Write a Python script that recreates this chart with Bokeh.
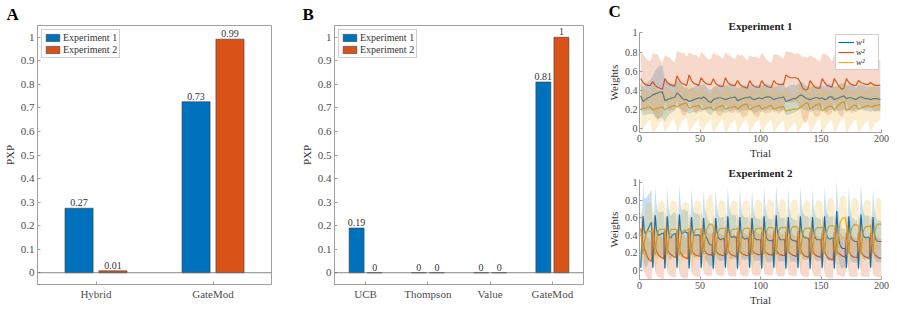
import numpy as np
from bokeh.plotting import figure
from bokeh.models import (FactorRange, Span, Legend, LegendItem, Title, FixedTicker,
                          ColumnDataSource)
from bokeh.transform import dodge
from bokeh.layouts import row, column
from bokeh.embed import file_html
from bokeh.resources import INLINE
from bokeh.core.properties import value

# ---------------- data ----------------
models_a = ["Hybrid", "GateMod"]
pxp_a_exp1 = [0.274, 0.726]
pxp_a_exp2 = [0.008, 0.992]
labels_a_exp1 = ["0.27", "0.73"]
labels_a_exp2 = ["0.01", "0.99"]

models_b = ["UCB", "Thompson", "Value", "GateMod"]
pxp_b_exp1 = [0.19, 0.0, 0.0, 0.81]
pxp_b_exp2 = [0.0, 0.0, 0.0, 1.0]
labels_b_exp1 = ["0.19", "0", "0", "0.81"]
labels_b_exp2 = ["0", "0", "0", "1"]

pxp_ticks = [0, 0.1, 0.2, 0.3, 0.4, 0.5, 0.6, 0.7, 0.8, 0.9, 1]
pxp_tick_labels = ["0", "0.1", "0.2", "0.3", "0.4", "0.5", "0.6", "0.7", "0.8", "0.9", "1"]
w_ticks = [0, 0.2, 0.4, 0.6, 0.8, 1]
w_tick_labels = ["0", "0.2", "0.4", "0.6", "0.8", "1"]
trial_ticks = [0, 50, 100, 150, 200]

# Experiment 1: weights (x100) at trials 1,3,...,199
trials_e1 = list(range(1, 200, 2))
w1_mean_e1 = [34, 28, 30, 32, 33, 35, 36, 37, 38, 38, 29, 30, 31, 32, 32, 37, 35, 32, 30, 30,
              28, 29, 30, 31, 32, 31, 33, 31, 28, 27, 30, 31, 32, 32, 31, 30, 31, 32, 32, 33,
              29, 30, 31, 32, 32, 33, 31, 30, 31, 32, 31, 32, 33, 33, 32, 30, 31, 32, 32, 33,
              28, 29, 30, 31, 31, 33, 35, 34, 32, 31, 30, 31, 32, 32, 31, 32, 30, 31, 33, 33,
              30, 31, 32, 33, 34, 31, 32, 32, 31, 30, 32, 33, 32, 31, 31, 30, 31, 31, 31, 30]
w2_mean_e1 = [52, 48, 46, 45, 45, 49, 45, 43, 42, 41, 52, 48, 46, 45, 44, 55, 50, 47, 46, 45,
              56, 50, 47, 46, 45, 53, 49, 47, 46, 46, 52, 47, 45, 44, 44, 53, 48, 46, 45, 45,
              50, 46, 44, 43, 42, 50, 46, 44, 43, 43, 50, 46, 44, 43, 43, 50, 47, 46, 46, 46,
              56, 54, 53, 53, 53, 52, 48, 42, 40, 41, 50, 46, 43, 42, 42, 52, 48, 45, 44, 43,
              52, 48, 44, 41, 42, 52, 48, 46, 45, 45, 50, 48, 47, 46, 46, 48, 46, 45, 45, 45]
w3_mean_e1 = [20, 21, 21, 22, 22, 19, 20, 21, 22, 22, 19, 21, 22, 23, 24, 22, 24, 25, 26, 26,
              21, 22, 23, 23, 24, 20, 20, 21, 22, 22, 19, 21, 22, 23, 24, 20, 21, 22, 22, 23,
              20, 22, 24, 25, 25, 19, 21, 22, 23, 24, 20, 21, 22, 23, 24, 20, 21, 22, 22, 23,
              18, 19, 19, 20, 20, 20, 22, 24, 26, 27, 20, 22, 24, 25, 26, 18, 20, 22, 23, 23,
              19, 22, 25, 27, 28, 19, 20, 22, 24, 24, 20, 21, 22, 23, 24, 22, 23, 24, 24, 25]
w1_sd_e1 = [14, 15, 16, 17, 18, 20, 24, 27, 28, 27, 22, 18, 16, 15, 14, 14, 14, 13, 13, 13,
            13, 13, 13, 14, 14, 14, 14, 13, 13, 13, 13, 13, 14, 14, 14, 14, 14, 14, 13, 13,
            13, 13, 13, 13, 13, 13, 14, 14, 14, 14, 14, 14, 14, 13, 13, 13, 13, 13, 14, 14,
            14, 15, 15, 15, 14, 14, 14, 14, 13, 13, 13, 13, 13, 13, 13, 13, 14, 14, 14, 13,
            13, 13, 14, 14, 14, 14, 14, 13, 13, 13, 13, 13, 13, 13, 13, 13, 13, 13, 13, 13]
w2_sd_e1 = [27, 30, 28, 26, 25, 30, 33, 35, 30, 28, 25, 27, 28, 26, 25, 26, 30, 32, 33, 30,
            24, 28, 30, 31, 28, 27, 29, 28, 26, 27, 28, 30, 32, 31, 29, 27, 29, 30, 29, 28,
            28, 30, 33, 31, 29, 27, 29, 31, 32, 30, 29, 30, 28, 27, 26, 28, 30, 31, 29, 27,
            25, 26, 27, 26, 25, 27, 29, 33, 35, 33, 27, 29, 31, 30, 28, 26, 30, 32, 30, 27,
            25, 28, 30, 29, 27, 26, 28, 30, 28, 26, 24, 26, 27, 26, 25, 25, 27, 28, 27, 26]
w3_sd_e1 = [26, 22, 18, 15, 13, 27, 23, 19, 16, 14, 25, 21, 18, 15, 14, 27, 23, 19, 16, 15,
            26, 22, 19, 16, 14, 25, 21, 18, 15, 13, 26, 22, 19, 16, 15, 27, 23, 19, 16, 14,
            26, 22, 19, 17, 16, 25, 21, 18, 16, 15, 26, 22, 18, 16, 15, 27, 23, 19, 16, 15,
            25, 21, 18, 15, 14, 26, 22, 19, 17, 16, 27, 23, 20, 17, 16, 25, 21, 18, 16, 15,
            26, 23, 20, 18, 17, 25, 21, 18, 16, 15, 26, 22, 19, 17, 16, 26, 22, 19, 17, 16]

# Experiment 2: weights (x100) at trials 1..200 (one row per block of 10 trials)
trials_e2 = list(range(1, 201))
w1_mean_e2 = [3, 35, 62, 45, 42, 44, 47, 50, 53, 55,
              3, 36, 63, 47, 42, 40, 41, 42, 42, 43,
              2, 34, 62, 44, 38, 37, 40, 41, 42, 42,
              3, 35, 64, 46, 42, 43, 44, 44, 43, 43,
              2, 34, 61, 45, 41, 40, 40, 41, 40, 40,
              3, 33, 60, 43, 38, 36, 32, 30, 29, 29,
              2, 32, 60, 44, 38, 36, 35, 36, 36, 37,
              3, 34, 62, 45, 40, 38, 38, 39, 38, 38,
              2, 33, 61, 44, 38, 37, 36, 36, 37, 36,
              3, 33, 60, 43, 37, 36, 35, 35, 35, 35,
              2, 33, 62, 44, 37, 35, 34, 34, 34, 35,
              3, 34, 63, 45, 38, 36, 35, 35, 35, 35,
              2, 32, 61, 43, 36, 35, 34, 34, 33, 34,
              3, 34, 62, 46, 40, 38, 37, 37, 37, 36,
              2, 33, 61, 44, 38, 36, 35, 35, 35, 35,
              3, 34, 62, 45, 39, 37, 36, 36, 37, 37,
              2, 35, 68, 45, 33, 28, 26, 25, 25, 25,
              3, 34, 62, 44, 37, 35, 34, 33, 33, 33,
              2, 35, 64, 47, 40, 38, 37, 38, 38, 37,
              3, 33, 61, 43, 36, 34, 33, 33, 33, 33]
w2_mean_e2 = [48, 40, 30, 25, 21, 17, 14, 12, 11, 10,
              47, 38, 26, 22, 19, 17, 16, 15, 14, 13,
              46, 37, 25, 21, 19, 18, 17, 16, 15, 15,
              46, 36, 24, 20, 18, 16, 15, 14, 14, 13,
              45, 36, 24, 21, 19, 18, 17, 17, 16, 16,
              46, 37, 25, 22, 20, 19, 18, 18, 18, 17,
              44, 35, 24, 21, 19, 18, 18, 17, 17, 17,
              45, 36, 24, 21, 19, 18, 17, 17, 16, 16,
              44, 35, 23, 20, 19, 18, 18, 17, 17, 17,
              45, 36, 24, 21, 20, 19, 19, 18, 18, 18,
              44, 35, 24, 21, 20, 19, 18, 18, 18, 17,
              45, 36, 24, 21, 19, 18, 18, 17, 17, 17,
              44, 35, 23, 20, 19, 18, 17, 17, 16, 16,
              45, 36, 24, 21, 19, 17, 16, 16, 15, 15,
              44, 35, 23, 20, 18, 17, 16, 16, 15, 15,
              43, 34, 22, 18, 16, 14, 13, 13, 12, 12,
              44, 36, 23, 20, 19, 18, 17, 16, 16, 15,
              43, 34, 22, 19, 17, 16, 15, 15, 15, 14,
              44, 35, 22, 19, 17, 16, 15, 15, 14, 14,
              43, 34, 22, 19, 17, 16, 15, 14, 14, 14]
w3_mean_e2 = [47, 30, 18, 32, 40, 44, 45, 45, 44, 44,
              48, 29, 17, 33, 42, 46, 47, 47, 47, 47,
              48, 30, 18, 34, 43, 47, 47, 47, 47, 47,
              47, 29, 17, 33, 42, 45, 46, 46, 46, 46,
              48, 30, 18, 33, 42, 46, 47, 47, 47, 47,
              48, 30, 19, 34, 44, 48, 51, 53, 53, 53,
              49, 31, 18, 34, 43, 47, 48, 48, 48, 48,
              48, 30, 18, 33, 42, 46, 47, 47, 47, 47,
              49, 31, 19, 35, 44, 47, 48, 48, 48, 48,
              48, 30, 18, 34, 43, 47, 48, 48, 48, 48,
              49, 31, 18, 34, 44, 48, 49, 49, 49, 49,
              48, 30, 18, 34, 44, 48, 49, 49, 49, 49,
              50, 31, 19, 36, 45, 49, 50, 50, 50, 50,
              48, 30, 18, 33, 42, 46, 48, 48, 48, 48,
              49, 31, 18, 35, 44, 48, 49, 49, 49, 49,
              50, 31, 19, 36, 45, 49, 51, 51, 51, 51,
              50, 30, 17, 35, 48, 55, 58, 60, 60, 60,
              52, 32, 19, 36, 46, 50, 52, 52, 52, 52,
              50, 31, 18, 34, 44, 48, 50, 50, 50, 50,
              52, 32, 19, 37, 47, 51, 53, 53, 53, 53]
w1_sd_e2 = [6, 28, 35, 38, 40, 40, 39, 38, 37, 36,
            6, 25, 34, 30, 27, 26, 26, 25, 25, 25,
            5, 24, 33, 29, 26, 25, 25, 25, 24, 24,
            6, 25, 34, 30, 27, 26, 26, 25, 25, 25,
            5, 24, 33, 29, 26, 25, 25, 24, 24, 24,
            6, 25, 33, 29, 27, 26, 25, 25, 24, 24,
            5, 24, 33, 29, 26, 25, 25, 25, 25, 24,
            6, 25, 34, 30, 27, 26, 25, 25, 25, 25,
            5, 24, 33, 29, 26, 25, 25, 24, 24, 24,
            6, 25, 33, 29, 26, 25, 24, 24, 24, 24,
            5, 24, 34, 30, 27, 26, 25, 25, 24, 24,
            6, 25, 35, 31, 28, 26, 25, 25, 25, 25,
            5, 24, 33, 29, 26, 25, 24, 24, 24, 24,
            6, 25, 34, 30, 27, 26, 25, 25, 25, 24,
            5, 24, 33, 29, 26, 25, 25, 24, 24, 24,
            6, 25, 34, 30, 27, 26, 25, 25, 25, 25,
            5, 26, 36, 31, 26, 24, 23, 23, 22, 22,
            6, 25, 34, 30, 27, 25, 25, 24, 24, 24,
            5, 25, 35, 31, 27, 26, 25, 25, 25, 25,
            6, 24, 33, 29, 26, 25, 24, 24, 24, 24]
w2_sd_e2 = [20, 24, 27, 27, 26, 25, 24, 23, 22, 22,
            21, 25, 28, 27, 26, 25, 24, 24, 23, 23,
            20, 24, 27, 26, 25, 25, 24, 24, 23, 23,
            21, 25, 28, 27, 26, 25, 24, 23, 23, 22,
            20, 24, 27, 26, 25, 25, 24, 24, 24, 23,
            21, 25, 28, 27, 26, 25, 25, 24, 24, 24,
            20, 24, 27, 26, 25, 24, 24, 24, 23, 23,
            21, 25, 28, 27, 26, 25, 24, 24, 23, 23,
            20, 24, 27, 26, 25, 25, 24, 24, 24, 23,
            21, 25, 28, 27, 26, 25, 25, 24, 24, 24,
            20, 24, 27, 26, 25, 25, 24, 24, 24, 23,
            21, 25, 28, 27, 26, 25, 24, 24, 24, 23,
            20, 24, 27, 26, 25, 24, 24, 23, 23, 23,
            21, 25, 28, 27, 25, 24, 24, 23, 23, 22,
            20, 24, 27, 26, 25, 24, 23, 23, 22, 22,
            21, 25, 28, 26, 24, 23, 22, 22, 21, 21,
            20, 24, 27, 26, 25, 24, 24, 23, 23, 22,
            21, 25, 27, 26, 24, 23, 23, 22, 22, 22,
            20, 24, 27, 26, 24, 23, 23, 22, 22, 22,
            21, 25, 27, 26, 24, 23, 23, 22, 22, 22]
w3_sd_e2 = [28, 24, 20, 26, 30, 32, 33, 33, 33, 33,
            27, 23, 19, 26, 30, 32, 32, 32, 32, 31,
            28, 24, 20, 27, 31, 32, 33, 33, 32, 32,
            27, 23, 19, 26, 30, 32, 32, 32, 31, 31,
            28, 24, 20, 27, 31, 33, 33, 33, 32, 32,
            28, 24, 20, 27, 31, 33, 34, 34, 33, 33,
            27, 23, 19, 26, 30, 32, 32, 32, 32, 31,
            28, 24, 20, 27, 31, 32, 33, 33, 32, 32,
            27, 23, 19, 26, 30, 32, 32, 32, 32, 32,
            28, 24, 20, 27, 31, 32, 33, 33, 32, 32,
            27, 23, 19, 26, 30, 32, 32, 32, 31, 31,
            28, 24, 20, 27, 31, 32, 32, 32, 32, 31,
            27, 23, 19, 26, 30, 31, 31, 31, 31, 30,
            28, 24, 20, 27, 31, 32, 33, 33, 32, 32,
            27, 23, 19, 26, 30, 31, 31, 31, 31, 30,
            28, 24, 20, 27, 31, 32, 32, 32, 31, 31,
            27, 23, 19, 26, 29, 28, 27, 26, 25, 25,
            28, 24, 20, 27, 30, 31, 31, 30, 30, 30,
            27, 23, 19, 26, 30, 31, 31, 31, 30, 30,
            28, 24, 20, 27, 30, 30, 30, 29, 28, 28]

legend_w = ["w\u00b9", "w\u00b2", "w\u00b2"]

# ---------------- style ----------------
BLUE, ORANGE, YELLOW = "#0072BD", "#D95319", "#EDB120"
SERIF = "Liberation Serif"
TICK_C = "#4d4d4d"
AXIS_C = "#a0a0a0"
LAB_C = "#333333"


def style_axis(ax, size="11px", lsize="11px", st=3):
    ax.major_label_text_font = SERIF
    ax.major_label_text_font_size = size
    ax.major_label_text_color = TICK_C
    ax.axis_line_color = AXIS_C
    ax.major_tick_line_color = AXIS_C
    ax.major_tick_in = 3
    ax.major_tick_out = 0
    ax.minor_tick_line_color = None
    ax.major_label_standoff = st
    ax.axis_label_text_font = SERIF
    ax.axis_label_text_font_size = lsize
    ax.axis_label_text_font_style = "normal"
    ax.axis_label_text_color = LAB_C
    ax.axis_label_standoff = 2


def letter_title(text, offset, standoff=3):
    return Title(text=text, align="left", offset=offset, standoff=standoff,
                 text_font=SERIF, text_font_size="17px", text_font_style="bold",
                 text_color="black")


def bar_panel(cats, e1, e2, l1, l2, letter, left, right, width):
    p = figure(x_range=FactorRange(factors=cats, range_padding=0), y_range=(-0.05, 1.05),
               width=width, height=302, min_border_left=left, min_border_right=right,
               min_border_top=25, min_border_bottom=18, title=None,
               output_backend="svg", toolbar_location=None)
    src = ColumnDataSource(dict(cat=cats, e1=e1, e2=e2, l1=l1, l2=l2))
    x1 = dodge("cat", -0.145, range=p.x_range)
    x2 = dodge("cat", 0.145, range=p.x_range)
    r1 = p.vbar(x=x1, top="e1", width=0.24, source=src, fill_color=BLUE,
                line_color="#3a3a3a", line_width=0.6)
    r2 = p.vbar(x=x2, top="e2", width=0.24, source=src, fill_color=ORANGE,
                line_color="#3a3a3a", line_width=0.6)
    for xx, lab, val in ((x1, "l1", "e1"), (x2, "l2", "e2")):
        p.text(x=xx, y=val, text=lab, source=src, text_align="center",
               text_baseline="bottom", y_offset=-2, text_font=value(SERIF),
               text_font_size="10px", text_color=LAB_C)
    p.add_layout(Span(location=0, dimension="width", line_color="#6a6a6a", line_width=0.8))
    p.xgrid.visible = False
    p.ygrid.visible = False
    p.outline_line_color = AXIS_C
    p.yaxis.ticker = FixedTicker(ticks=pxp_ticks)
    p.yaxis.major_label_overrides = dict(zip(pxp_ticks, pxp_tick_labels))
    p.yaxis.axis_label = "PXP"
    for ax in p.axis:
        style_axis(ax)
    leg = Legend(items=[LegendItem(label="Experiment 1", renderers=[r1]),
                        LegendItem(label="Experiment 2", renderers=[r2])],
                 location="top_left", label_text_font=SERIF, label_text_font_size="10px",
                 label_text_color=LAB_C, glyph_width=17, glyph_height=9, label_height=10,
                 spacing=1, padding=2, margin=4, label_standoff=2,
                 border_line_color=AXIS_C, background_fill_alpha=1)
    p.add_layout(leg)
    p.add_layout(letter_title(letter, -left, standoff=4), "above")
    return p


def line_panel(x, means, sds, title, yr, height, top, bottom, letter=None, legend=False):
    p = figure(x_range=(0, 200), y_range=yr, width=288, height=height,
               min_border_left=38, min_border_right=8, min_border_top=top,
               min_border_bottom=bottom, title=None,
               output_backend="svg", toolbar_location=None)
    cols = [BLUE, ORANGE, YELLOW]
    rends = []
    for m, c in zip(means, cols):
        rends.append(p.line(x, np.array(m) / 100.0, line_color=c, line_width=1.2))
    for m, s, c in zip(means, sds, cols):
        m = np.array(m) / 100.0
        s = np.array(s) / 100.0
        p.varea(x=x, y1=m - s, y2=m + s, fill_color=c, fill_alpha=0.22)
    p.xgrid.visible = False
    p.ygrid.visible = False
    p.outline_line_color = None
    p.xaxis.ticker = FixedTicker(ticks=trial_ticks)
    p.yaxis.ticker = FixedTicker(ticks=w_ticks)
    p.yaxis.major_label_overrides = dict(zip(w_ticks, w_tick_labels))
    p.xaxis.axis_label = "Trial"
    p.yaxis.axis_label = "Weights"
    for ax in p.axis:
        style_axis(ax, size="10px", lsize="11px", st=2)
    p.add_layout(Title(text=title, align="center", standoff=2, text_font=SERIF,
                       text_font_size="11px", text_font_style="bold",
                       text_color="#222222"), "above")
    if legend:
        leg = Legend(items=[LegendItem(label=legend_w[i], renderers=[rends[i]]) for i in range(3)],
                     location="top_right", label_text_font=SERIF, label_text_font_size="9px",
                     label_text_font_style="italic", label_text_color=LAB_C,
                     glyph_width=16, glyph_height=8, label_height=9, spacing=0, padding=2,
                     margin=2, label_standoff=2, border_line_color=AXIS_C,
                     background_fill_alpha=1)
        p.add_layout(leg)
    if letter:
        p.add_layout(letter_title(letter, -31, standoff=-8), "above")
    return p


pa = bar_panel(models_a, pxp_a_exp1, pxp_a_exp2, labels_a_exp1, labels_a_exp2, "A",
               31, 26, 297)
pb = bar_panel(models_b, pxp_b_exp1, pxp_b_exp2, labels_b_exp1, labels_b_exp2, "B",
               32, 18, 304)
pc1 = line_panel(trials_e1, [w1_mean_e1, w2_mean_e1, w3_mean_e1], [w1_sd_e1, w2_sd_e1, w3_sd_e1],
                 "Experiment 1", (-0.045, 1.005), 161, 32, 27, letter="C", legend=True)
pc2 = line_panel(trials_e2, [w1_mean_e2, w2_mean_e2, w3_mean_e2], [w1_sd_e2, w2_sd_e2, w3_sd_e2],
                 "Experiment 2", (-0.105, 1.04), 147, 18, 26)

layout = row(pa, pb, column(pc1, pc2, spacing=0), spacing=0)
open("out.html", "w").write(file_html(layout, INLINE))
